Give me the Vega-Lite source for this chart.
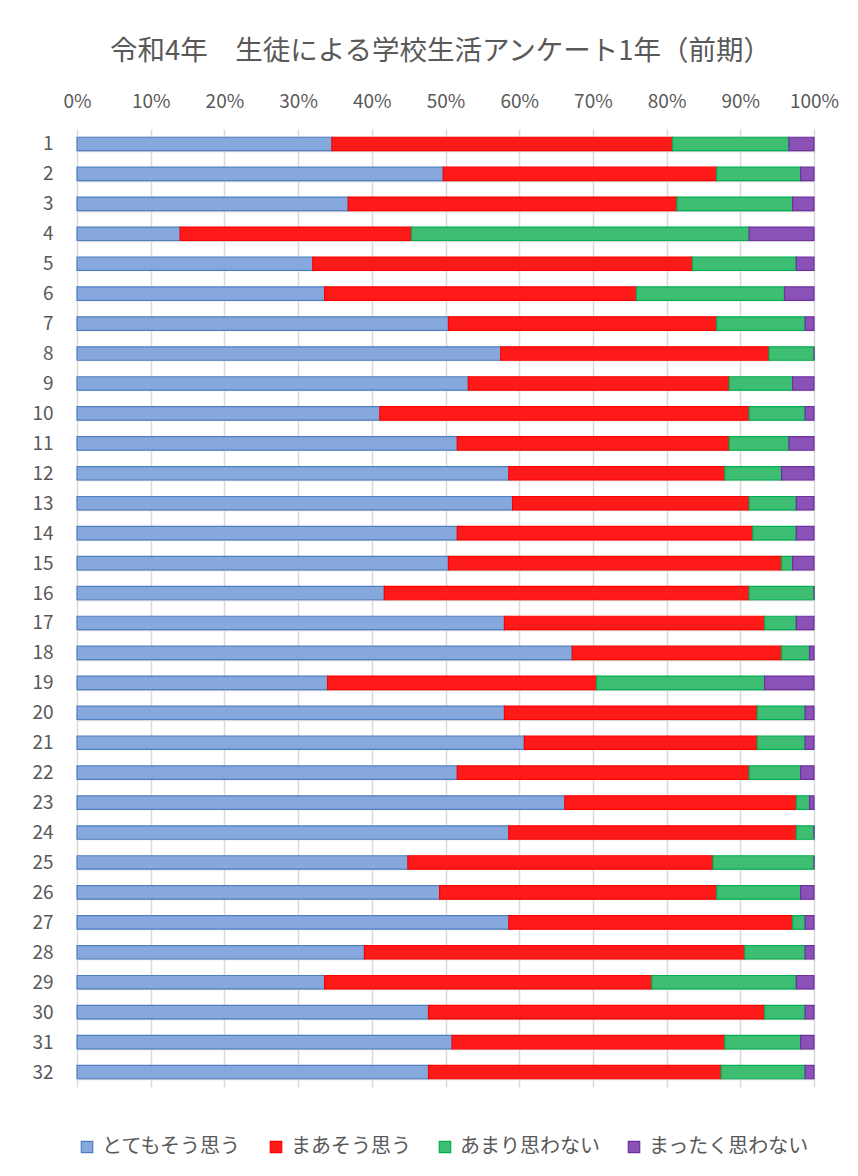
{
  "$schema": "https://vega.github.io/schema/vega-lite/v6.json",
  "autosize": "none",
  "width": 737,
  "height": 958,
  "padding": {"left": 77, "top": 129, "right": 44, "bottom": 89},
  "background": "white",
  "title": {
    "text": "令和4年　生徒による学校生活アンケート1年（前期）",
    "fontSize": 27.5,
    "font": "Noto Sans CJK JP",
    "fontWeight": "normal",
    "color": "#595959",
    "offset": 27,
    "dx": -5
  },
  "datasets": {
    "order": [
      {"a": "とてもそう思う", "o": 1},
      {"a": "まあそう思う", "o": 2},
      {"a": "あまり思わない", "o": 3},
      {"a": "まったく思わない", "o": 4}
    ],
    "survey": [
      {"q": 1, "とてもそう思う": 34.6, "まあそう思う": 46.2, "あまり思わない": 15.8, "まったく思わない": 3.4},
      {"q": 2, "とてもそう思う": 49.7, "まあそう思う": 37.1, "あまり思わない": 11.4, "まったく思わない": 1.8},
      {"q": 3, "とてもそう思う": 36.8, "まあそう思う": 44.6, "あまり思わない": 15.7, "まったく思わない": 2.9},
      {"q": 4, "とてもそう思う": 14.0, "まあそう思う": 31.4, "あまり思わない": 45.8, "まったく思わない": 8.8},
      {"q": 5, "とてもそう思う": 32.0, "まあそう思う": 51.5, "あまり思わない": 14.1, "まったく思わない": 2.4},
      {"q": 6, "とてもそう思う": 33.6, "まあそう思う": 42.3, "あまり思わない": 20.1, "まったく思わない": 4.0},
      {"q": 7, "とてもそう思う": 50.4, "まあそう思う": 36.4, "あまり思わない": 12.0, "まったく思わない": 1.2},
      {"q": 8, "とてもそう思う": 57.5, "まあそう思う": 36.4, "あまり思わない": 6.1, "まったく思わない": 0},
      {"q": 9, "とてもそう思う": 53.1, "まあそう思う": 35.4, "あまり思わない": 8.6, "まったく思わない": 2.9},
      {"q": 10, "とてもそう思う": 41.1, "まあそう思う": 50.1, "あまり思わない": 7.6, "まったく思わない": 1.2},
      {"q": 11, "とてもそう思う": 51.6, "まあそう思う": 36.9, "あまり思わない": 8.1, "まったく思わない": 3.4},
      {"q": 12, "とてもそう思う": 58.6, "まあそう思う": 29.3, "あまり思わない": 7.7, "まったく思わない": 4.4},
      {"q": 13, "とてもそう思う": 59.1, "まあそう思う": 32.1, "あまり思わない": 6.4, "まったく思わない": 2.4},
      {"q": 14, "とてもそう思う": 51.6, "まあそう思う": 40.1, "あまり思わない": 5.9, "まったく思わない": 2.4},
      {"q": 15, "とてもそう思う": 50.4, "まあそう思う": 45.2, "あまり思わない": 1.5, "まったく思わない": 2.9},
      {"q": 16, "とてもそう思う": 41.7, "まあそう思う": 49.5, "あまり思わない": 8.8, "まったく思わない": 0},
      {"q": 17, "とてもそう思う": 58.0, "まあそう思う": 35.3, "あまり思わない": 4.3, "まったく思わない": 2.4},
      {"q": 18, "とてもそう思う": 67.2, "まあそう思う": 28.4, "あまり思わない": 3.8, "まったく思わない": 0.6},
      {"q": 19, "とてもそう思う": 34.0, "まあそう思う": 36.5, "あまり思わない": 22.8, "まったく思わない": 6.7},
      {"q": 20, "とてもそう思う": 58.0, "まあそう思う": 34.3, "あまり思わない": 6.5, "まったく思わない": 1.2},
      {"q": 21, "とてもそう思う": 60.7, "まあそう思う": 31.6, "あまり思わない": 6.5, "まったく思わない": 1.2},
      {"q": 22, "とてもそう思う": 51.6, "まあそう思う": 39.6, "あまり思わない": 7.0, "まったく思わない": 1.8},
      {"q": 23, "とてもそう思う": 66.2, "まあそう思う": 31.4, "あまり思わない": 1.8, "まったく思わない": 0.6},
      {"q": 24, "とてもそう思う": 58.6, "まあそう思う": 39.0, "あまり思わない": 2.4, "まったく思わない": 0},
      {"q": 25, "とてもそう思う": 44.9, "まあそう思う": 41.4, "あまり思わない": 13.7, "まったく思わない": 0},
      {"q": 26, "とてもそう思う": 49.2, "まあそう思う": 37.6, "あまり思わない": 11.4, "まったく思わない": 1.8},
      {"q": 27, "とてもそう思う": 58.6, "まあそう思う": 38.5, "あまり思わない": 1.7, "まったく思わない": 1.2},
      {"q": 28, "とてもそう思う": 39.0, "まあそう思う": 51.6, "あまり思わない": 8.2, "まったく思わない": 1.2},
      {"q": 29, "とてもそう思う": 33.6, "まあそう思う": 44.4, "あまり思わない": 19.6, "まったく思わない": 2.4},
      {"q": 30, "とてもそう思う": 47.7, "まあそう思う": 45.6, "あまり思わない": 5.5, "まったく思わない": 1.2},
      {"q": 31, "とてもそう思う": 50.9, "まあそう思う": 37.0, "あまり思わない": 10.3, "まったく思わない": 1.8},
      {"q": 32, "とてもそう思う": 47.7, "まあそう思う": 39.7, "あまり思わない": 11.4, "まったく思わない": 1.2}
    ]
  },
  "data": {"name": "survey"},
  "transform": [
    {"fold": ["とてもそう思う", "まあそう思う", "あまり思わない", "まったく思わない"], "as": ["a", "v"]},
    {"lookup": "a", "from": {"data": {"name": "order"}, "key": "a", "fields": ["o"]}}
  ],
  "mark": {"type": "bar", "strokeWidth": 1.2},
  "encoding": {
    "y": {
      "field": "q",
      "type": "ordinal",
      "title": null,
      "scale": {"paddingInner": 0.55, "paddingOuter": 0.275},
      "axis": {
        "ticks": false,
        "domain": false,
        "labelFontSize": 19,
        "labelFont": "Noto Sans CJK JP",
        "labelColor": "#595959",
        "labelPadding": 24,
        "labelAngle": 0,
        "grid": true,
        "tickBand": "extent",
        "gridColor": "#D9D9D9",
        "gridWidth": 1.5
      }
    },
    "x": {
      "field": "v",
      "type": "quantitative",
      "stack": "normalize",
      "title": null,
      "scale": {"domain": [0, 1]},
      "axis": {
        "orient": "top",
        "format": ".0%",
        "values": [0, 0.1, 0.2, 0.3, 0.4, 0.5, 0.6, 0.7, 0.8, 0.9, 1],
        "ticks": false,
        "domain": false,
        "labelFontSize": 19,
        "labelFont": "Noto Sans CJK JP",
        "labelColor": "#595959",
        "labelPadding": 18,
        "labelFlush": false,
        "gridColor": "#D9D9D9",
        "gridWidth": 1.5
      }
    },
    "fill": {
      "field": "a",
      "type": "nominal",
      "scale": {
        "domain": ["とてもそう思う", "まあそう思う", "あまり思わない", "まったく思わない"],
        "range": ["#86A8DC", "#FF1A1A", "#3DBE72", "#8A52B6"]
      },
      "legend": {
        "title": null,
        "orient": "bottom",
        "direction": "horizontal",
        "offset": 50,
        "symbolType": "square",
        "symbolSize": 130,
        "symbolStrokeWidth": 1.2,
        "labelFontSize": 20,
        "labelFont": "Noto Sans CJK JP",
        "labelColor": "#595959",
        "labelOffset": 5,
        "columnPadding": 24
      }
    },
    "stroke": {
      "field": "a",
      "type": "nominal",
      "scale": {
        "domain": ["とてもそう思う", "まあそう思う", "あまり思わない", "まったく思わない"],
        "range": ["#4F7FC0", "#FF0000", "#00B050", "#7030A0"]
      },
      "legend": {
        "title": null,
        "orient": "bottom",
        "direction": "horizontal",
        "offset": 50,
        "symbolType": "square",
        "symbolSize": 130,
        "symbolStrokeWidth": 1.2,
        "labelFontSize": 20,
        "labelFont": "Noto Sans CJK JP",
        "labelColor": "#595959",
        "labelOffset": 5,
        "columnPadding": 24
      }
    },
    "order": {"field": "o", "type": "quantitative"}
  },
  "config": {"view": {"stroke": null}}
}
